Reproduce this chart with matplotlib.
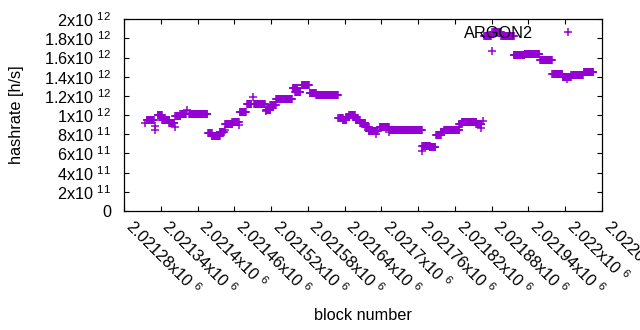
import numpy as np
import matplotlib
matplotlib.use("Agg")
import matplotlib.pyplot as plt

plt.rcParams["font.family"] = ["Liberation Sans", "DejaVu Sans"]
plt.rcParams["mathtext.fontset"] = "custom"
plt.rcParams["mathtext.rm"] = "Liberation Sans"
plt.rcParams["mathtext.it"] = "Liberation Sans:italic"
plt.rcParams["mathtext.bf"] = "Liberation Sans:bold"

# ---- data (block offsets from first tick, hashrate in units of 1e11 h/s) ----
BLOCK0 = 2021280
run_start = [37, 55, 62, 74, 84, 92, 106, 137, 143, 156, 165, 177, 189, 201, 212, 232, 239, 248,
             275, 279, 290, 303, 314, 350, 357, 363, 367, 378, 385, 394, 399, 417, 434, 487, 499,
             509, 517, 522, 547, 551, 575, 588, 601, 616, 636, 654, 679, 699, 716, 730, 750]
run_end = [49, 62, 74, 82, 92, 101, 136, 143, 156, 163, 177, 187, 199, 208, 230, 239, 248, 274,
           283, 288, 302, 313, 349, 357, 363, 367, 377, 385, 394, 399, 414, 432, 486, 499, 508,
           517, 522, 547, 551, 575, 583, 599, 615, 636, 653, 678, 698, 715, 729, 749, 766]
run_value = [9.5, 10.0, 9.45, 9.15, 9.95, 10.15, 10.12, 8.1, 7.85, 8.25, 9.12, 9.3, 10.3, 11.12,
             11.18, 10.56, 11.04, 11.7, 12.85, 12.45, 13.17, 12.33, 12.12, 9.7, 9.5, 9.8, 10.05,
             9.5, 9.13, 8.8, 8.3, 8.78, 8.43, 6.8, 6.63, 7.91, 8.19, 8.47, 9.06, 9.27, 9.03,
             18.24, 18.66, 18.28, 16.26, 16.4, 15.74, 14.28, 14.0, 14.14, 14.52]
single_block = [35, 50, 51, 83, 103, 164, 188, 210, 232, 412, 432, 487, 582, 586, 600, 723]
single_value = [9.2, 8.45, 8.9, 8.8, 10.5, 8.5, 9.0, 11.9, 10.45, 8.0, 8.2, 6.25, 8.7, 9.37, 16.7, 13.8]

xtick_values = [2021280, 2021340, 2021400, 2021460, 2021520, 2021580, 2021640,
                2021700, 2021760, 2021820, 2021880, 2021940, 2022000, 2022060]
xtick_mant = ["2.02128", "2.02134", "2.0214", "2.02146", "2.02152", "2.02158", "2.02164",
              "2.0217", "2.02176", "2.02182", "2.02188", "2.02194", "2.022", "2.02206"]
ytick_values = [0, 2e11, 4e11, 6e11, 8e11, 1e12, 1.2e12, 1.4e12, 1.6e12, 1.8e12, 2e12]
ytick_mant = ["0", "2", "4", "6", "8", "1", "1.2", "1.4", "1.6", "1.8", "2"]
ytick_exp = ["", "11", "11", "11", "11", "12", "12", "12", "12", "12", "12"]

# ---- expand runs ----
xs, ys = [], []
for s, e, v in zip(run_start, run_end, run_value):
    b = np.arange(s, e + 1)
    xs.append(BLOCK0 + b)
    ys.append(np.full(len(b), v * 1e11))
xs.append(BLOCK0 + np.array(single_block))
ys.append(np.array(single_value) * 1e11)
x = np.concatenate(xs)
y = np.concatenate(ys)

color = "#9400D3"
fs = 11.7

fig = plt.figure(figsize=(6.4, 3.3), dpi=100)
ax = fig.add_axes([124 / 640, 119 / 330, 478 / 640, 191.7 / 330])
ax.plot(x, y, linestyle="none", marker="+", ms=6, mew=1.1, color=color, label="ARGON2")

ax.set_xlim(xtick_values[0], xtick_values[-1])
ax.set_ylim(0, 2e12)
ax.set_xticks(xtick_values)
ax.set_xticklabels([m + "x10 $^{6}$" for m in xtick_mant], fontsize=fs,
                   rotation=-45, ha="left", va="baseline", rotation_mode="anchor")
ax.set_yticks(ytick_values)
ax.set_yticklabels([m if not e else m + "x10 $^{" + e + "}$" for m, e in zip(ytick_mant, ytick_exp)],
                   fontsize=fs)

ax.tick_params(direction="in", length=3.5, width=0.8, top=True, right=True, colors="black")
ax.tick_params(axis="y", pad=9)
ax.tick_params(axis="x", pad=12)
for sp in ax.spines.values():
    sp.set_linewidth(0.9)

ax.set_xlabel("block number", fontsize=fs, va="center")
ax.xaxis.set_label_coords(0.5, (211 - 315) / 191.7)
ax.set_ylabel("hashrate [h/s]", fontsize=fs, va="center")
ax.yaxis.set_label_coords((16.7 - 124) / 478, 0.5)

ax.legend(loc="upper right", bbox_to_anchor=(0.946, 0.966), markerfirst=False, frameon=False,
          borderpad=0, borderaxespad=0, handlelength=1.0, handletextpad=1.65, numpoints=1,
          fontsize=fs)

fig.savefig("out.png", dpi=100)
